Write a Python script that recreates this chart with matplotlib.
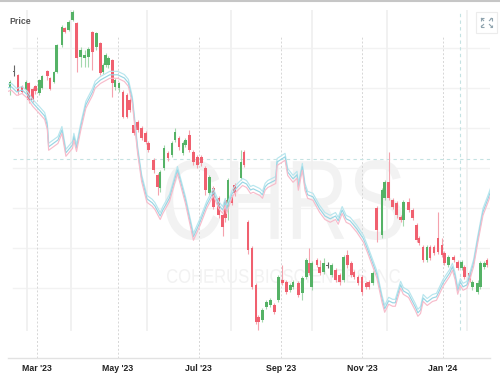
import matplotlib
matplotlib.use("Agg")
import matplotlib.pyplot as plt
import matplotlib.dates as mdates
from matplotlib.textpath import TextPath
from matplotlib.patches import PathPatch, Rectangle
from matplotlib.lines import Line2D
from matplotlib.font_manager import FontProperties
from matplotlib.transforms import Affine2D, offset_copy
import numpy as np
import pandas as pd

BASE = pd.Timestamp("2023-03-01")

# candle dates, as days after 1 Mar 2023
candle_day = [-20, -17, -14, -11, -8, -6, -3, -1, 2, 4,
              8, 10, 13, 15, 19, 21, 24, 27, 30, 33,
              36, 39, 42, 45, 48, 50, 52, 54, 57, 59,
              62, 65, 68, 70, 73, 76, 79, 82, 84, 88,
              91, 93, 96, 99, 102, 104, 107, 110, 112, 115,
              118, 121, 124, 127, 130, 133, 137, 140, 142, 144,
              147, 149, 154, 156, 159, 162, 165, 167, 170, 173,
              176, 179, 182, 185, 188, 191, 193, 197, 200, 203,
              205, 207, 211, 213, 216, 219, 222, 225, 228, 231,
              234, 237, 239, 242, 245, 248, 250, 253, 256, 260,
              262, 265, 268, 271, 274, 276, 280, 283, 286, 288,
              291, 294, 296, 299, 302, 305, 307, 310, 314, 317,
              320, 322, 326, 328, 332, 334, 337, 339]

opens = [7.00, 7.40, 7.33, 7.05, 6.95, 7.13, 6.98, 7.05, 6.88, 7.00,
         7.43, 7.25, 7.15, 7.40, 8.08, 8.50, 8.45, 8.70, 8.63, 7.78,
         7.75, 7.78, 8.40, 8.03, 8.13, 7.40, 7.58, 7.58, 7.70, 7.03,
         7.00, 6.90, 6.83, 6.70, 6.08, 6.15, 6.00, 5.88, 5.63, 5.20,
         4.83, 4.50, 5.00, 5.38, 5.33, 5.70, 5.75, 5.38, 5.58, 5.83,
         5.40, 5.28, 5.28, 5.00, 4.38, 4.50, 4.25, 3.83, 4.20, 4.03,
         4.28, 4.58, 4.75, 5.40, 3.65, 3.00, 2.08, 1.28, 1.20, 1.53,
         1.58, 1.58, 1.70, 2.20, 2.15, 1.95, 2.03, 2.13, 1.88, 2.28,
         2.63, 2.03, 2.70, 2.53, 2.40, 2.55, 2.33, 2.45, 2.33, 2.20,
         2.83, 2.63, 2.40, 2.28, 2.28, 2.13, 2.15, 2.13, 4.00, 3.33,
         4.25, 4.65, 4.20, 4.13, 3.78, 3.70, 4.15, 3.95, 3.58, 3.25,
         3.03, 2.70, 3.03, 3.03, 3.25, 3.08, 2.88, 2.58, 2.78, 2.65,
         2.50, 2.53, 2.38, 2.03, 1.90, 2.03, 2.53, 2.70]

highs = [7.20, 7.58, 7.35, 7.08, 7.20, 7.15, 7.03, 7.08, 7.23, 7.33,
         7.45, 7.28, 7.43, 8.10, 8.58, 8.53, 8.70, 8.95, 8.65, 8.03,
         7.95, 8.03, 8.43, 8.40, 8.15, 7.63, 7.88, 7.80, 7.73, 7.25,
         7.15, 6.95, 6.88, 6.75, 6.13, 6.20, 6.05, 5.93, 5.68, 5.25,
         4.88, 4.95, 5.58, 5.43, 5.68, 6.00, 5.80, 5.68, 5.75, 5.95,
         5.45, 5.33, 5.33, 5.05, 4.83, 4.55, 4.30, 3.88, 4.25, 4.75,
         4.33, 4.63, 5.45, 5.45, 3.70, 3.05, 2.13, 1.33, 1.50, 1.70,
         1.75, 1.63, 2.33, 2.58, 2.20, 2.13, 2.20, 2.18, 2.30, 2.75,
         3.00, 2.68, 2.75, 2.70, 2.75, 2.65, 2.63, 2.50, 2.38, 2.83,
         2.95, 2.68, 2.45, 2.33, 2.33, 2.18, 2.20, 2.43, 4.05, 4.50,
         4.70, 5.40, 4.25, 4.18, 3.83, 4.20, 4.25, 4.00, 3.63, 3.30,
         3.08, 3.08, 3.08, 3.08, 3.90, 3.25, 2.93, 2.83, 2.83, 2.70,
         2.70, 2.58, 2.43, 2.20, 2.20, 2.68, 2.68, 2.75]

lows = [6.83, 7.30, 6.83, 6.88, 6.90, 6.63, 6.65, 6.85, 6.83, 6.98,
        7.20, 6.95, 7.13, 7.38, 8.03, 8.38, 8.43, 8.68, 7.40, 7.53,
        7.53, 7.53, 7.45, 7.95, 7.33, 7.35, 7.53, 7.50, 6.78, 6.95,
        6.90, 6.25, 6.25, 6.40, 5.83, 5.90, 5.70, 5.60, 5.40, 4.88,
        4.33, 4.40, 4.95, 5.18, 5.28, 5.65, 5.45, 5.33, 5.53, 5.40,
        5.08, 5.00, 5.05, 4.33, 4.33, 3.98, 3.75, 3.30, 3.65, 3.70,
        4.08, 4.30, 4.70, 5.03, 2.85, 1.98, 1.10, 0.95, 1.15, 1.48,
        1.53, 1.35, 1.65, 2.08, 1.85, 1.90, 1.98, 1.78, 1.70, 2.23,
        2.33, 1.95, 2.53, 2.33, 2.35, 2.50, 2.28, 2.15, 2.08, 2.15,
        2.50, 2.28, 2.23, 2.08, 1.83, 1.98, 1.98, 2.08, 3.15, 3.25,
        4.20, 4.20, 3.98, 3.75, 3.65, 3.55, 3.90, 3.70, 3.15, 3.08,
        2.65, 2.65, 2.70, 2.83, 2.85, 2.78, 2.58, 2.53, 2.65, 2.45,
        2.45, 2.23, 2.15, 1.95, 1.85, 1.98, 2.48, 2.53]

closes = [7.15, 7.40, 6.90, 6.90, 7.15, 6.70, 6.70, 6.93, 7.20, 7.30,
          7.30, 6.98, 7.40, 8.08, 8.53, 8.40, 8.65, 8.90, 7.75, 7.95,
          7.83, 7.98, 7.90, 8.38, 7.38, 7.58, 7.83, 7.75, 7.13, 7.20,
          7.13, 6.28, 6.28, 6.45, 5.88, 5.95, 5.75, 5.65, 5.45, 4.95,
          4.53, 4.90, 5.50, 5.25, 5.63, 5.90, 5.53, 5.63, 5.70, 5.45,
          5.15, 5.08, 5.13, 4.45, 4.78, 4.03, 3.83, 3.53, 3.75, 4.70,
          4.13, 4.38, 5.15, 5.08, 2.95, 2.03, 1.15, 1.15, 1.45, 1.65,
          1.70, 1.40, 2.28, 2.13, 1.90, 2.08, 2.15, 1.83, 2.25, 2.70,
          2.38, 2.63, 2.58, 2.38, 2.63, 2.55, 2.58, 2.20, 2.15, 2.78,
          2.58, 2.33, 2.28, 2.13, 1.90, 2.03, 2.03, 2.38, 3.45, 4.45,
          4.65, 4.25, 4.03, 3.83, 3.70, 4.15, 3.95, 3.75, 3.20, 3.13,
          2.70, 3.03, 2.75, 2.88, 2.90, 2.83, 2.63, 2.78, 2.70, 2.50,
          2.65, 2.28, 2.20, 2.15, 2.13, 2.63, 2.63, 2.58]

# comparison line, days after 1 Mar 2023
line_day = [-22, -19, -15, -11, -7, -3, 2, 6, 8, 9,
            16, 19, 22, 27, 28, 30, 33, 37, 42, 44,
            48, 55, 61, 66, 69, 72, 74, 76, 79, 83,
            87, 89, 93, 95, 100, 106, 112, 118, 123, 128,
            133, 137, 140, 142, 143, 147, 149, 155, 158, 161,
            163, 168, 170, 172, 174, 177, 180, 181, 187, 189,
            193, 196, 197, 200, 202, 204, 208, 213, 217, 221,
            225, 227, 230, 233, 236, 241, 246, 249, 251, 256,
            260, 262, 265, 268, 270, 274, 276, 280, 285, 287,
            289, 291, 294, 298, 301, 306, 311, 313, 315, 317,
            319, 321, 324, 326, 329, 332, 336, 340, 343]

line_price = [7.00, 7.03, 6.90, 6.95, 6.83, 6.63, 6.45, 6.30, 6.05, 5.53,
              5.70, 5.95, 5.38, 5.58, 5.78, 5.50, 6.00, 6.58, 6.90, 7.08,
              7.20, 7.33, 7.33, 7.25, 7.13, 6.70, 6.08, 5.45, 4.75, 4.23,
              4.13, 4.05, 3.80, 3.95, 4.25, 4.95, 4.20, 3.28, 3.65, 4.08,
              4.40, 4.08, 3.95, 4.15, 3.95, 4.35, 4.45, 4.65, 4.60, 4.45,
              4.48, 4.40, 4.33, 4.53, 4.60, 4.65, 4.70, 5.15, 5.28, 4.90,
              4.73, 4.83, 4.53, 5.03, 4.53, 4.33, 4.28, 3.98, 3.80, 3.73,
              3.80, 3.68, 3.95, 3.73, 3.68, 3.48, 3.23, 2.98, 2.80, 2.35,
              1.73, 1.48, 1.68, 1.63, 1.63, 2.08, 1.93, 1.85, 1.53, 1.38,
              1.45, 1.75, 1.65, 1.75, 1.78, 2.13, 2.38, 2.53, 2.30, 1.93,
              2.15, 2.03, 2.08, 2.28, 2.63, 3.20, 3.90, 4.25, 4.53]

month_ticks = ["2023-03-01", "2023-05-01", "2023-07-01",
               "2023-09-01", "2023-11-01", "2024-01-01"]
month_labels = ["Mar '23", "May '23", "Jul '23", "Sep '23", "Nov '23", "Jan '24"]
marker_dates = ["2023-02-22", "2023-03-27", "2023-05-23", "2023-07-25",
                "2023-09-24", "2023-11-20", "2024-01-19"]
price_grid = [2, 3, 4, 5, 6, 7, 8]
cursor_date = "2024-01-14"
cursor_price = 5.22
ticker = "CHRS"
company = "COHERUS BIOSCIENCES INC"

W, H = 500, 374


def to_num(days):
    return mdates.date2num((BASE + pd.to_timedelta(days, unit="D")).to_numpy())


def date_num(s):
    return mdates.date2num(pd.Timestamp(s).to_pydatetime())


def px(x, y):
    # pixel from top-left -> figure fraction
    return x / W, 1 - y / H


def stretched_text(fig, ax, text, x0, x1, y_top, y_bot, color):
    tp = TextPath((0, 0), text, size=100, prop=FontProperties(family="Liberation Sans"))
    bb = tp.get_extents()
    tr = (Affine2D().translate(-bb.x0, -bb.y0)
          .scale((x1 - x0) / bb.width / W, (y_bot - y_top) / bb.height / H)
          .translate(x0 / W, 1 - y_bot / H) + fig.transFigure)
    ax.add_artist(PathPatch(tp, transform=tr, facecolor=color, edgecolor="none", zorder=0.5))


def fig_line(fig, pts, color, lw):
    xs = [px(x, y)[0] for x, y in pts]
    ys = [px(x, y)[1] for x, y in pts]
    fig.add_artist(Line2D(xs, ys, transform=fig.transFigure, color=color, lw=lw,
                          solid_capstyle="butt"))


def main():
    fig = plt.figure(figsize=(W / 100, H / 100), dpi=100)
    ax = fig.add_axes([8 / W, 16 / H, 482 / W, 348 / H])

    # watermark
    stretched_text(fig, ax, ticker, 165, 402, 160, 240, "#f2f2f2")
    stretched_text(fig, ax, company, 167, 400, 269, 283, "#f2f2f2")

    # grid
    for p in price_grid:
        ax.axhline(p, xmin=0.0104, xmax=1, color="#f2f2f2", lw=1, zorder=1)
    for d in marker_dates:
        ax.axvline(date_num(d), ymin=0.08, ymax=1, color="#f0f0f0", lw=1.3, zorder=1)
    tick_x = [date_num(d) for d in month_ticks]
    for t in tick_x:
        ax.axvline(t, ymin=0, ymax=0.922, color="#d6d6d6", lw=0.7,
                   ls=(0, (2, 2)), zorder=1)

    # candles
    x = to_num(candle_day)
    o = np.array(opens)
    h = np.array(highs)
    l = np.array(lows)
    c = np.array(closes)
    up = c > o
    down = c < o
    body_col = np.where(up, "#55b266", np.where(down, "#f0606f", "#666666"))
    wick_col = np.where(up, "#a3d8ad", np.where(down, "#f5a2ad", "#666666"))
    ax.vlines(x, l, h, colors=list(wick_col), lw=0.8, zorder=3)
    ax.bar(x, np.maximum(np.abs(c - o), 0.03), bottom=np.minimum(o, c), width=1.9,
           color=list(body_col), lw=0, zorder=4)

    # comparison line drawn as three offset strokes
    lx = to_num(line_day)
    for dy, col in [(2.5, "#b8e6ee"), (0, "#98d6e4"), (-2.5, "#f7bccb")]:
        tr = offset_copy(ax.transData, fig=fig, y=dy, units="points")
        ax.plot(lx, line_price, color=col, lw=0.85, transform=tr, zorder=5)

    # crosshair
    ax.axvline(date_num(cursor_date), ymin=0.08, ymax=1, color="#c4e2e2", lw=0.8,
               ls=(0, (3, 3)), zorder=2)
    ax.axhline(cursor_price, xmin=0.0104, xmax=1, color="#c4e2e2", lw=0.8,
               ls=(0, (3, 3)), zorder=2)

    ax.set_xlim(to_num([-21.6, 341.3]))
    ax.set_ylim(0.25, 8.95)

    for s in ["top", "left", "right"]:
        ax.spines[s].set_visible(False)
    ax.spines["bottom"].set_color("#e2e2e2")
    ax.spines["bottom"].set_linewidth(1)
    ax.set_yticks([])
    ax.set_xticks(tick_x)
    ax.set_xticklabels(month_labels, fontsize=6.3, fontweight="bold", color="#222222",
                       family="Liberation Sans")
    ax.tick_params(axis="x", length=0, pad=4)

    # frame bits
    fig_line(fig, [(0, 0.7), (W, 0.7)], "#c6c6c6", 1.5)
    fig.text(9 / W, 1 - 22 / H, "Price", fontsize=6.3, fontweight="bold", color="#555555",
             family="Liberation Sans", va="center", ha="left")

    # expand button
    bx, by = px(476, 33)
    fig.add_artist(Rectangle((bx, by), 21 / W, 21 / H, transform=fig.transFigure,
                             facecolor="white", edgecolor="#ececec", lw=0.8))
    icon = "#8fa3ae"
    fig_line(fig, [(484, 21), (481, 18)], icon, 0.8)
    fig_line(fig, [(483.5, 18), (481, 18), (481, 20.5)], icon, 0.8)
    fig_line(fig, [(489, 21), (492, 18)], icon, 0.8)
    fig_line(fig, [(489.5, 18), (492, 18), (492, 20.5)], icon, 0.8)
    fig_line(fig, [(484, 24), (481, 27)], icon, 0.8)
    fig_line(fig, [(481, 24.5), (481, 27), (483.5, 27)], icon, 0.8)
    fig_line(fig, [(489, 24), (492, 27)], icon, 0.8)
    fig_line(fig, [(492, 24.5), (492, 27), (489.5, 27)], icon, 0.8)

    fig.savefig("out.png", dpi=100)


if __name__ == "__main__":
    main()
